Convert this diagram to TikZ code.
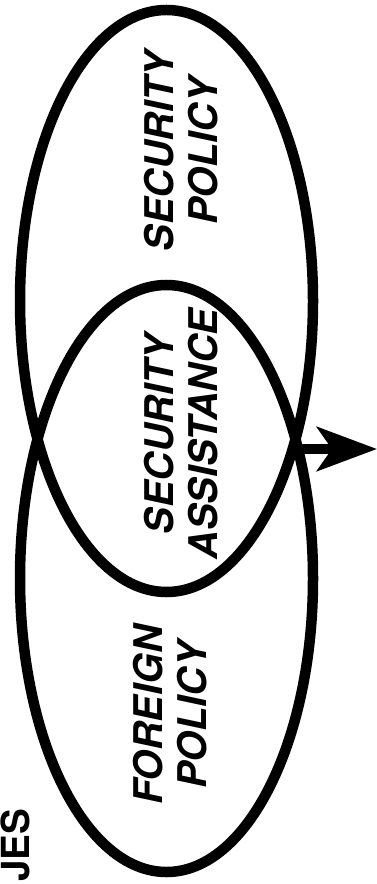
\documentclass[tikz,border=0pt]{standalone}
\usepackage{fontspec}
\setsansfont{TeX Gyre Heros}
\usepackage{tikz}
\usetikzlibrary{shapes.geometric,arrows.meta,positioning}
\tikzset{
  policyset/.style={
    ellipse, draw=black, line width=0.21cm,
    minimum width=5.86cm, inner sep=0pt
  },
  setlabel/.style={
    rotate=90, align=center, inner sep=0pt,
    font=\sffamily\bfseries\itshape\fontsize{22.5}{25}\selectfont
  },
  flowarrow/.style={-{Stealth[length=1.2cm, width=0.88cm, inset=0.3cm]}, line width=0.2cm, draw=black},
}
\begin{document}
\begin{tikzpicture}
  \useasboundingbox (0,0) rectangle (7.54,-17.68);
  % the two overlapping policy areas
  \node (secpol) [policyset, minimum height=11.64cm] at (3.33,-6.02) {};
  \node (forpol) [policyset, minimum height=11.74cm] at (3.33,-11.57) {};
  % labels
  \node (seclab) [setlabel] at (3.62,-3.02) {SECURITY\\POLICY};
  \node (asslab) [setlabel] at (3.62,-8.68) {SECURITY\\ASSISTANCE};
  \node (forlab) [setlabel] at (3.40,-14.30) {FOREIGN\\POLICY};
  \node (cutlab) [rotate=90, inner sep=0pt, font=\sffamily\bfseries\fontsize{22}{25}\selectfont] at (0.30,-16.90) {JES};
  % outflow
  \coordinate (out) at (5.94,-8.98);
  \coordinate (tip) at (7.54,-8.98);
  \draw[flowarrow] (out) -- (tip);
\end{tikzpicture}
\end{document}
